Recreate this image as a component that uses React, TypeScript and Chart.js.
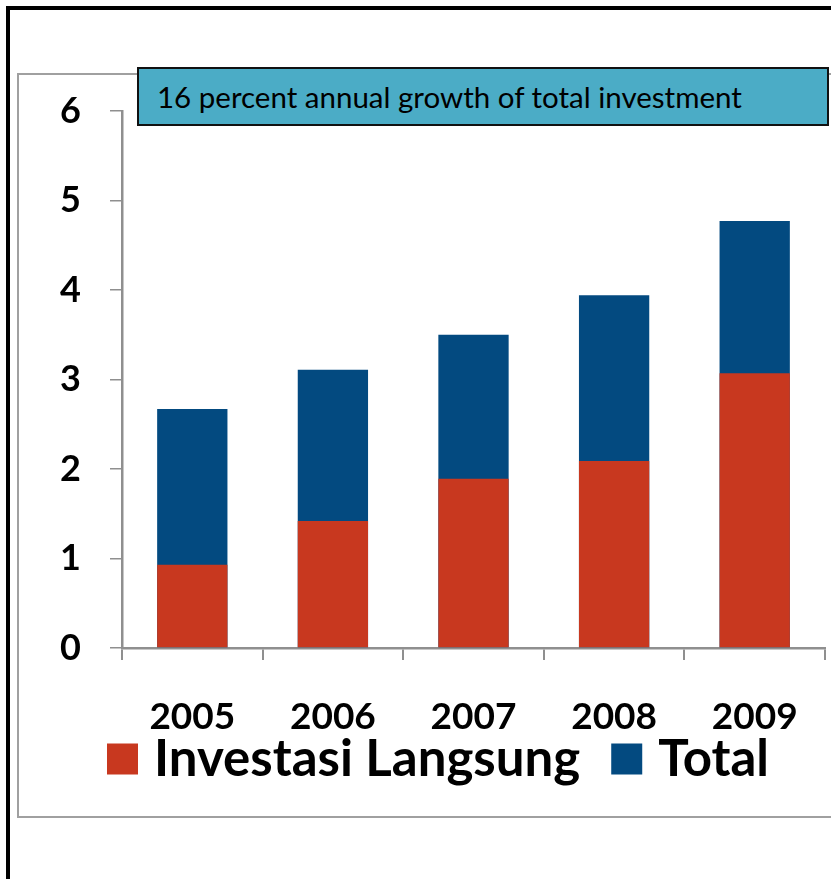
import React, { useEffect, useRef } from 'react';
import { Chart, registerables } from 'chart.js';

Chart.register(...registerables);

const years = ['2005', '2006', '2007', '2008', '2009'];
const directInvestment = [0.93, 1.42, 1.89, 2.09, 3.07];
const totalInvestment = [2.67, 3.11, 3.5, 3.94, 4.77];
const yTicks = [0, 1, 2, 3, 4, 5, 6];
const seriesLabels = ['Investasi Langsung', 'Total'];
const titleText = '16 percent annual growth of total investment';

const RED = '#C8381F';
const BLUE = '#034A80';
const GRAY = '#8F8F8F';
const FONT = 'Lato, "Open Sans", sans-serif';

const bottomLegend = {
  id: 'bottomLegend',
  afterDraw(chart: any) {
    const ctx = chart.ctx as CanvasRenderingContext2D;
    const xs = chart.scales.x;
    const box = 31;
    const gapText = 16;
    const gapItem = 31;
    ctx.save();
    ctx.font = `bold 51px ${FONT}`;
    const items = chart.data.datasets.map((ds: any) => ({
      text: ds.label as string,
      color: ds.backgroundColor as string,
      w: ctx.measureText(ds.label).width,
    }));
    const total = items.reduce(
      (s: number, it: any, i: number) => s + box + gapText + it.w + (i ? gapItem : 0),
      0
    );
    let x = chart.width / 2 - total / 2;
    const cy = xs.bottom + 19;
    ctx.textBaseline = 'middle';
    ctx.textAlign = 'left';
    items.forEach((it: any) => {
      ctx.fillStyle = it.color;
      ctx.fillRect(x, cy - box / 2, box, box);
      x += box + gapText;
      ctx.fillStyle = '#000';
      ctx.fillText(it.text, x, cy + 1);
      x += it.w + gapItem;
    });
    ctx.restore();
  },
};

export default function App() {
  const canvasRef = useRef<HTMLCanvasElement | null>(null);

  useEffect(() => {
    const canvas = canvasRef.current;
    if (!canvas) return;
    const chart = new Chart(canvas, {
      type: 'bar',
      data: {
        labels: years,
        datasets: [
          {
            label: seriesLabels[0],
            data: directInvestment,
            backgroundColor: RED,
            barPercentage: 0.5,
            categoryPercentage: 1,
          },
          {
            label: seriesLabels[1],
            data: totalInvestment,
            backgroundColor: BLUE,
            barPercentage: 0.5,
            categoryPercentage: 1,
          },
        ],
      },
      options: {
        animation: false,
        responsive: false,
        maintainAspectRatio: false,
        layout: { padding: { top: 36, right: 33, bottom: 75, left: 0 } },
        plugins: {
          legend: { display: false },
          tooltip: { enabled: false },
        },
        scales: {
          x: {
            stacked: true,
            grid: {
              display: true,
              drawOnChartArea: false,
              tickLength: 12,
              color: GRAY,
              lineWidth: 2,
              offset: true,
            },
            border: { display: true, color: GRAY, width: 2.5 },
            ticks: {
              color: '#000',
              padding: 35,
              maxRotation: 0,
              font: { family: FONT, size: 37, weight: 'bold' },
            },
            afterFit: (s: any) => {
              s.height = 92;
            },
          },
          y: {
            stacked: false,
            min: 0,
            max: 6,
            afterBuildTicks: (s: any) => {
              s.ticks = yTicks.map((v) => ({ value: v }));
            },
            grid: {
              display: true,
              drawOnChartArea: false,
              tickLength: 12,
              color: GRAY,
              lineWidth: 1.5,
            },
            border: { display: true, color: GRAY, width: 2.5 },
            ticks: {
              color: '#000',
              padding: 29,
              font: { family: FONT, size: 36, weight: 'bold' },
            },
            afterFit: (s: any) => {
              s.width = 104;
              s.paddingTop = 0;
              s.paddingBottom = 0;
            },
          },
        },
      },
      plugins: [bottomLegend],
    } as any);
    return () => chart.destroy();
  }, []);

  return (
    <div
      style={{
        position: 'fixed',
        left: 0,
        top: 0,
        width: 831,
        height: 879,
        overflow: 'hidden',
        background: '#fff',
      }}
    >
      <div
        style={{
          position: 'absolute',
          left: 6,
          top: 6,
          width: 1000,
          height: 1000,
          border: '4px solid #000',
          boxSizing: 'border-box',
        }}
      />
      <div
        style={{
          position: 'absolute',
          left: 17,
          top: 73,
          width: 1000,
          height: 745,
          border: '2px solid #A0A0A0',
          boxSizing: 'border-box',
        }}
      />
      <canvas
        ref={canvasRef}
        width={840}
        height={740}
        style={{ position: 'absolute', left: 18, top: 75, width: 840, height: 740 }}
      />
      <div
        style={{
          position: 'absolute',
          left: 137,
          top: 67,
          width: 692,
          height: 59,
          border: '2px solid #111',
          boxSizing: 'border-box',
          background: '#4BACC6',
          fontFamily: FONT,
          fontSize: 29.5,
          color: '#000',
          paddingLeft: 18,
          display: 'flex',
          alignItems: 'center',
          whiteSpace: 'nowrap',
        }}
      >
        {titleText}
      </div>
    </div>
  );
}
